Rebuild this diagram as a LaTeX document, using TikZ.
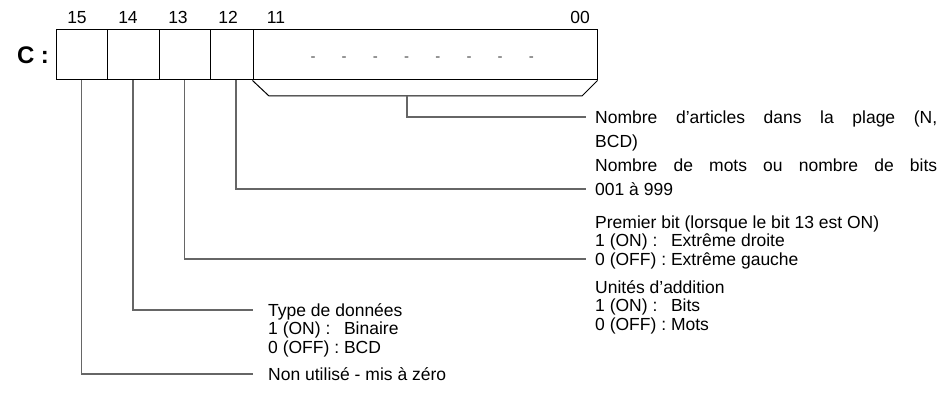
\documentclass[tikz,border=0pt]{standalone}
\usepackage{fontspec}
\setmainfont{Liberation Sans}
\begin{document}
\begin{tikzpicture}[x=1pt,y=-1pt,
  font=\fontsize{17.5}{21}\selectfont,
  cell/.style={draw=black, line width=1pt, minimum height=50pt, inner sep=0pt},
  lead/.style={draw=black!60, line width=1.1pt},
  txt/.style={anchor=base west, inner sep=0pt},
  bitnum/.style={anchor=base, inner sep=0pt},
  dashmark/.style={inner sep=0pt, text=black!70, font=\fontsize{15}{15}\selectfont}]
\useasboundingbox (0,0) rectangle (942,411);
% register cells
\node[cell, minimum width=51pt] (b15) at (81.5,55) {};
\node[cell, minimum width=52pt] (b14) at (133,55) {};
\node[cell, minimum width=51pt] (b13) at (184.5,55) {};
\node[cell, minimum width=43pt] (b12) at (231.5,55) {};
\node[cell, minimum width=344pt] (fld) at (425,55) {};
\node[font=\fontsize{24}{24}\selectfont\bfseries, anchor=base] (clab) at (33,63.5) {C :};
% bit numbers
\node[bitnum] (n15) at (77,24) {15};
\node[bitnum] (n14) at (128,24) {14};
\node[bitnum] (n13) at (178,24) {13};
\node[bitnum] (n12) at (228,24) {12};
\node[bitnum] (n11) at (276,24) {11};
\node[bitnum] (n00) at (580,24) {00};
% dashes
\foreach \i in {0,...,7} {
  \node[dashmark] (d\i) at (313+31.2*\i,59) {-};
}
% bracket under bits 11-00
\draw[draw=black, line width=1pt] (fld.south west) -- (269,96) -- (582,96) -- (fld.south east);
\coordinate (brk) at (407,96);
% texts right column
\node[txt] (t1) at (595,123.5) {\makebox[342pt][s]{Nombre d’articles dans la plage (N,}};
\node[txt] (t2) at (595,147.5) {BCD)};
\node[txt] (t3) at (595,171.5) {\makebox[342pt][s]{Nombre de mots ou nombre de bits}};
\node[txt] (t4) at (595,195.5) {001 à 999};
\node[txt] (t5) at (595,228.5) {Premier bit (lorsque le bit 13 est ON)};
\node[txt] (t6) at (595,247) {\rlap{1 (ON) :}\hphantom{0 (OFF) : }Extrême droite};
\node[txt] (t7) at (595,265.5) {0 (OFF) : Extrême gauche};
\node[txt] (t8) at (595,293.5) {Unités d’addition};
\node[txt] (t9) at (595,312) {\rlap{1 (ON) :}\hphantom{0 (OFF) : }Bits};
\node[txt] (t10) at (595,330.5) {0 (OFF) : Mots};
% texts left column
\node[txt] (l1) at (268,316.5) {Type de données};
\node[txt] (l2) at (268,335) {\rlap{1 (ON) :}\hphantom{0 (OFF) : }Binaire};
\node[txt] (l3) at (268,353.5) {0 (OFF) : BCD};
\node[txt] (l4) at (268,380.5) {Non utilisé - mis à zéro};
% leader lines
\draw[lead] (brk) -- (407,117) -- (586,117);
\draw[lead] (236,80) -- (236,189) -- (586,189);
\draw[lead] (b13.south) -- (184.5,259) -- (586,259);
\draw[lead] (b14.south) -- (133,310) -- (253,310);
\draw[lead] (b15.south) -- (81.5,374) -- (253,374);
\end{tikzpicture}
\end{document}
